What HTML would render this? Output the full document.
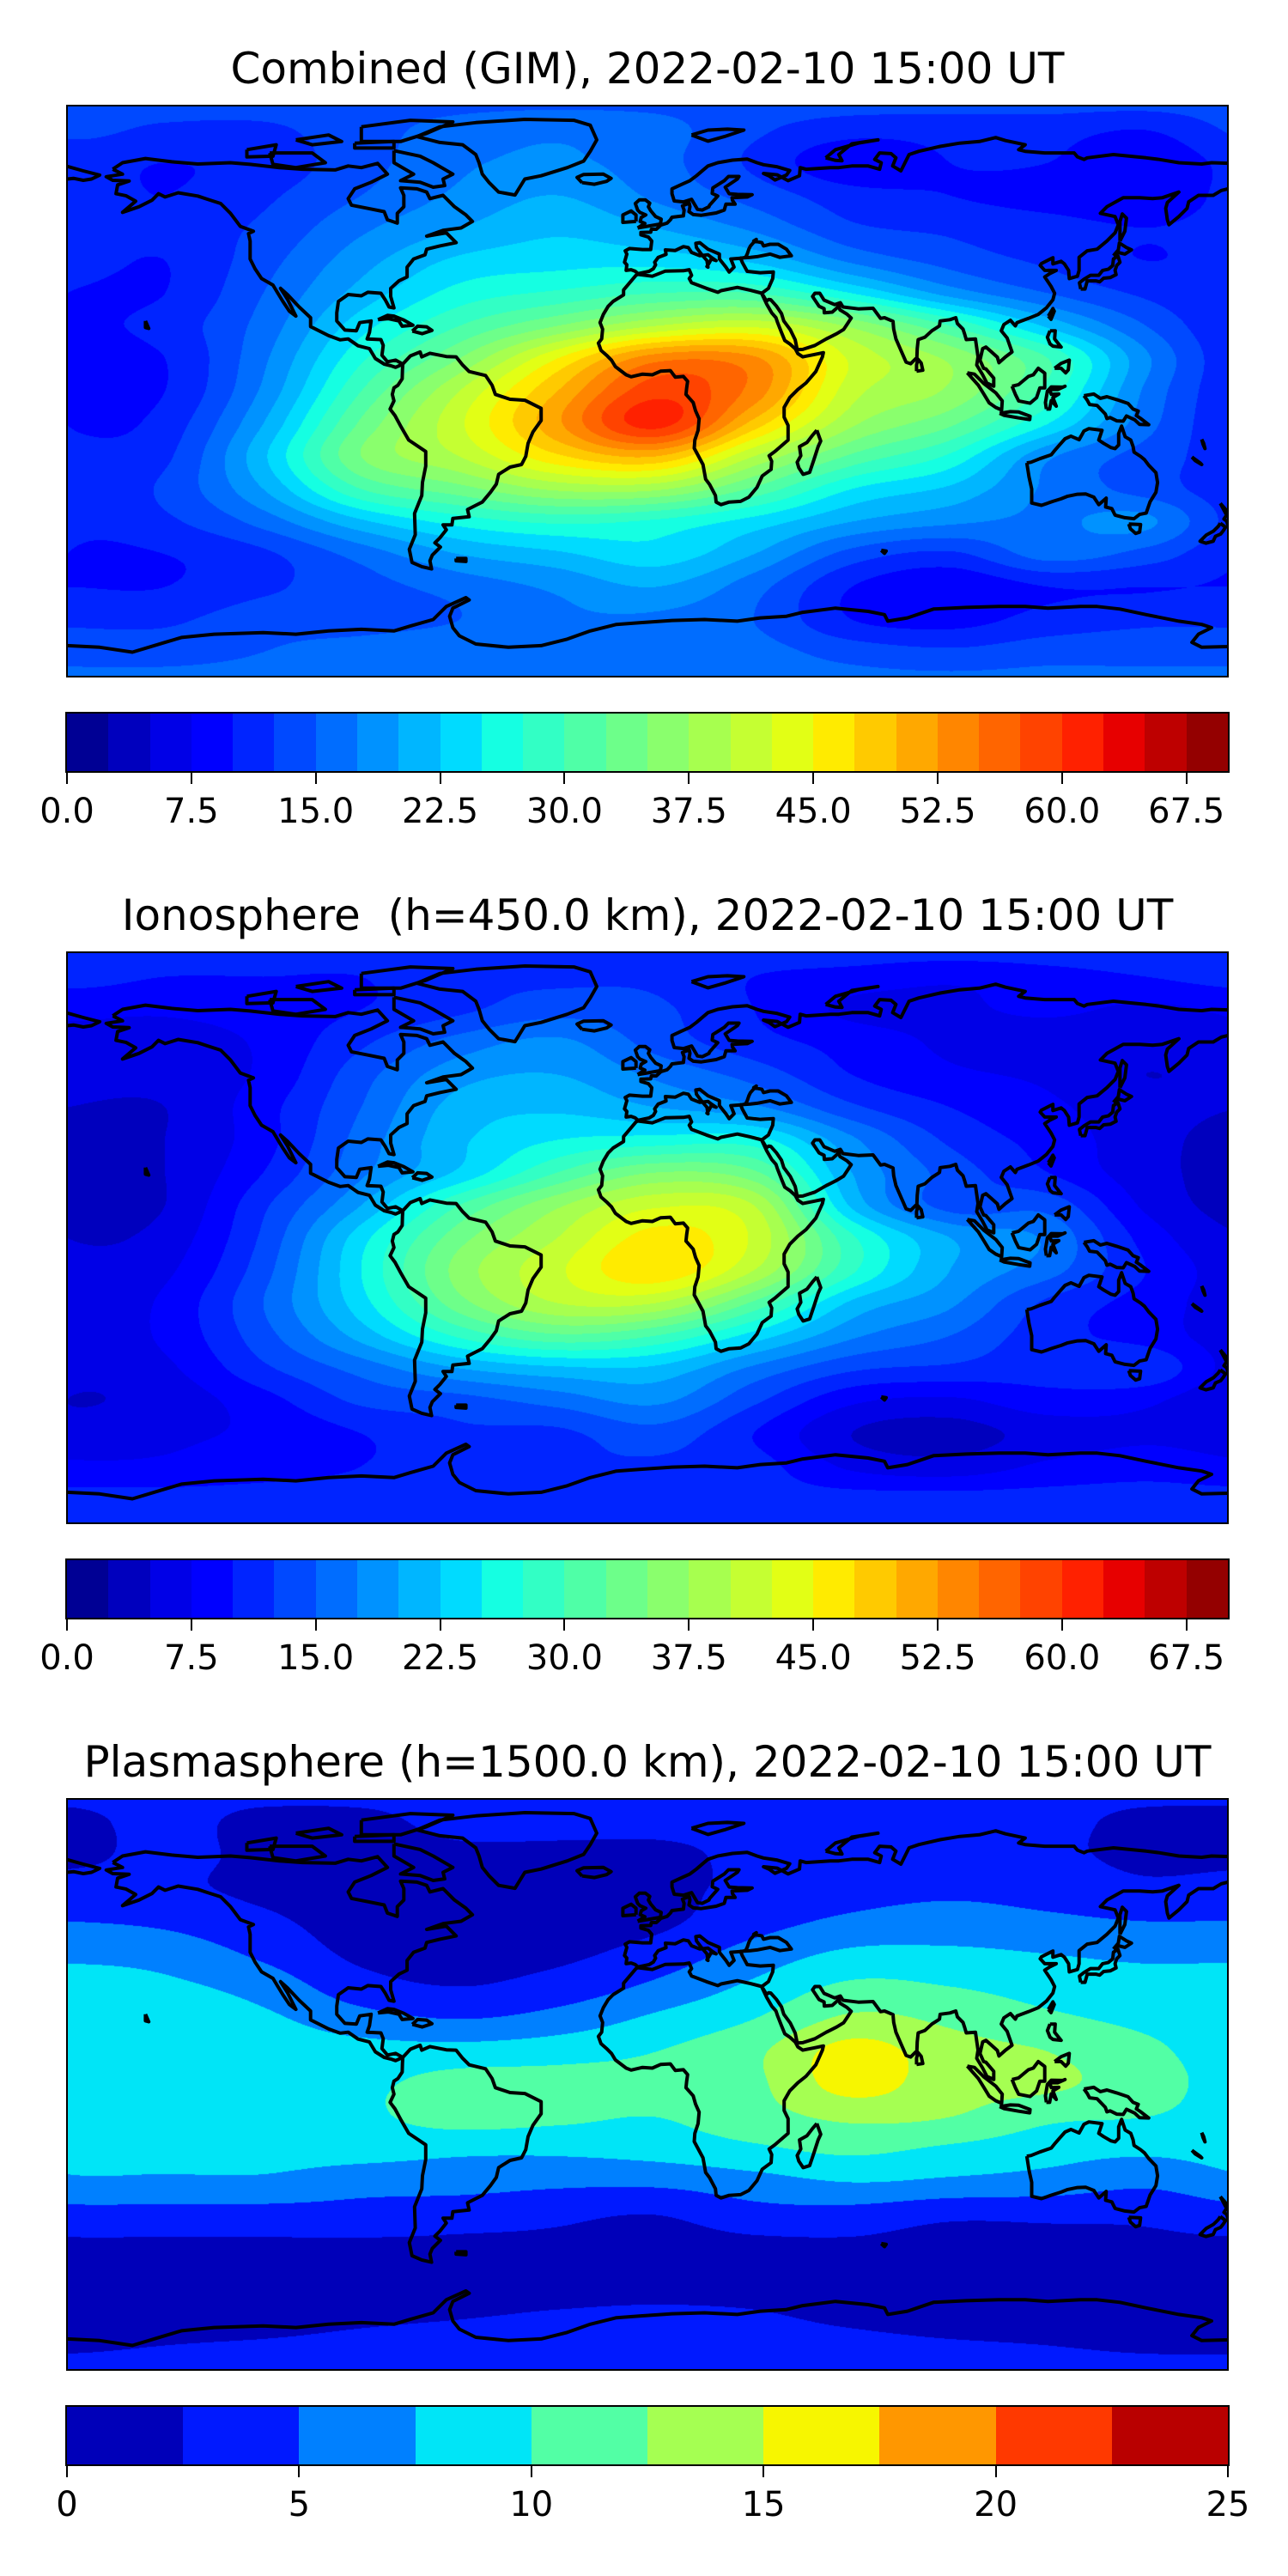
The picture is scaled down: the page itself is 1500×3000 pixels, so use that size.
<!DOCTYPE html>
<html><head><meta charset="utf-8">
<style>
html,body{margin:0;padding:0;background:#fff;}
body{width:1500px;height:3000px;position:relative;overflow:hidden;font-family:"DejaVu Sans","Liberation Sans",sans-serif;}
.title{position:absolute;left:0;width:1508px;text-align:center;font-size:50px;line-height:50px;white-space:pre;color:#000;}
.map{position:absolute;left:78px;width:1352px;height:665px;}
.map canvas{position:absolute;left:0;top:0;}
.map svg{position:absolute;left:0;top:0;overflow:hidden;}
.frame{position:absolute;left:-1px;top:-1px;width:1350px;height:663px;border:2px solid #000;}
.cbar{position:absolute;left:78px;width:1352px;height:67px;}
.cbar .cells{position:absolute;left:0;top:0;width:1352px;height:67px;display:flex;}
.cbar .cells div{flex:1;height:100%;}
.cbar .cframe{position:absolute;left:-2px;top:-2px;width:1352px;height:67px;border:2px solid #000;}
.tick{position:absolute;width:2px;height:15px;background:#000;}
.tlab{position:absolute;width:200px;margin-left:-100px;text-align:center;font-size:40px;line-height:40px;color:#000;}
</style></head>
<body>

<div class="title" style="top:55px">Combined (GIM), 2022-02-10 15:00 UT</div>
<div class="map" id="map1" style="top:123px">
 <canvas id="cv1" width="1352" height="665"></canvas>
 <svg id="sv1" width="1352" height="665" viewBox="0 0 1352 665"></svg>
 <div class="frame"></div>
</div>
<div class="cbar" id="cb1" style="top:831px"><div class="cells"></div><div class="cframe"></div></div>

<div class="title" style="top:1041px">Ionosphere  (h=450.0 km), 2022-02-10 15:00 UT</div>
<div class="map" id="map2" style="top:1109px">
 <canvas id="cv2" width="1352" height="665"></canvas>
 <svg id="sv2" width="1352" height="665" viewBox="0 0 1352 665"></svg>
 <div class="frame"></div>
</div>
<div class="cbar" id="cb2" style="top:1817px"><div class="cells"></div><div class="cframe"></div></div>

<div class="title" style="top:2027px">Plasmasphere (h=1500.0 km), 2022-02-10 15:00 UT</div>
<div class="map" id="map3" style="top:2095px">
 <canvas id="cv3" width="1352" height="665"></canvas>
 <svg id="sv3" width="1352" height="665" viewBox="0 0 1352 665"></svg>
 <div class="frame"></div>
</div>
<div class="cbar" id="cb3" style="top:2803px"><div class="cells"></div><div class="cframe"></div></div>

<script>
const gridLons = [-180,-150,-120,-90,-60,-30,0,30,60,90,120,150,180];
const gridLats = [90,80,70,60,50,40,30,20,10,0,-10,-20,-30,-40,-50,-60,-70,-80,-90];

const combinedTec = [
 [14,14,14,14,14,14,14,14,14,14,14,14,14],
 [13,12,12,14,16,17,16,13,11,11,11,10,13],
 [11,10,11,14,17,18,16,12,8,10,10,8,11],
 [11,10,12,15,18,20,17,14,11,10,9,8,11],
 [11,11,13,17,20,22,20,17,13,12,11,10,11],
 [11,10,14,19,23,24,24,22,17,14,12,10,11],
 [10,10,15,21,26,28,30,30,25,19,15,12,10],
 [10,11,16,24,30,35,40,42,37,30,22,15,10],
 [10,10,17,27,35,45,54,53,42,37,30,18,10],
 [10,10,18,30,40,50,59,54,41,37,29,17,10],
 [10,11,20,33,42,52,61,49,38,33,25,16,10],
 [11,12,22,35,40,47,50,40,32,27,18,14,11],
 [11,13,20,30,34,38,38,32,25,22,17,14,11],
 [11,12,16,22,26,28,27,24,20,18,17,18,11],
 [10,10,12,16,20,22,24,20,14,12,16,14,10],
 [10,10,12,14,16,18,20,16,10,8,10,10,10],
 [12,12,14,14,15,17,17,15,10,9,11,12,12],
 [14,14,15,16,17,17,17,16,14,13,14,14,14],
 [16,16,16,16,16,16,16,16,16,16,16,16,16]
];
const ionoTec = [
 [12,12,12,12,12,12,12,12,12,12,12,12,12],
 [11,10,10,10,12,12,12,10,9,8,9,10,11],
 [8,8,9,10,12,14,13,10,7,7,8,7,8],
 [7,6,8,12,16,18,14,11,9,7,6,6,7],
 [6,6,8,14,19,20,17,14,10,8,7,5,6],
 [5,5,9,15,21,22,20,18,13,10,8,6,5],
 [4,5,9,16,22,25,26,26,18,12,9,6,4],
 [4,5,10,17,23,30,35,33,20,14,10,6,4],
 [4,5,12,20,30,37,42,40,22,14,14,7,4],
 [5,6,13,24,34,40,46,42,28,20,17,9,5],
 [6,7,14,25,36,42,47,40,28,20,16,10,6],
 [6,8,15,24,34,40,40,32,22,18,12,9,6],
 [6,8,14,21,28,32,30,24,18,15,11,9,6],
 [6,7,12,16,20,22,22,17,13,12,11,12,6],
 [5,6,9,13,14,16,18,13,8,7,9,8,5],
 [6,7,8,10,12,12,14,10,5,4,6,7,6],
 [8,8,9,10,11,12,12,11,7,6,8,9,8],
 [11,11,11,11,11,11,11,11,11,11,11,11,11],
 [12,12,12,12,12,12,12,12,12,12,12,12,12]
];
const plasmaTec = [
 [3,3,3,3,3,3,3,3,3,3,3,3,3],
 [2,3,2,2,3,3,3,3,3,3,3,2,2],
 [2,3,2,1.5,2,2,2,3,3.5,3.5,3,2,2],
 [3.5,3,2,1.5,1.5,1.5,2,3,4,4.5,4,3,3.5],
 [5,4.5,3,1.5,1.5,1.5,2,4,5.5,6,5.5,5,5],
 [7,6.5,4.5,2,1.8,2,3.5,6,8,8,7.5,7,7],
 [8.5,8,6.5,3.5,2.5,3.5,5.5,8,10.5,10,9,8.5,8.5],
 [9,9,8,6,5,6,8,10,13,12,10.5,9.5,9],
 [9,9.5,9,8.5,8.5,9,10,12,16,13.5,12.5,10.5,9],
 [9,9.5,9.5,9.5,11,11,11,12,16,13.5,13,11,9],
 [9,9.5,9,9.5,11,10.5,10,11.5,13,12.5,10.5,10,9],
 [8.5,8.5,8.5,8.5,8,8,8.5,9.5,10.5,9.5,8.5,8,8.5],
 [7,7,7,6,6,5.5,5.5,6.5,7.5,7,6.5,5.5,7],
 [4,4,4,4,3.5,3,2.5,4,4,3,3,3,4],
 [2,2,2,2,2,2,1.5,1.8,2,1.5,1.8,2,2],
 [1.5,1.5,1.5,1.5,1.5,1.5,1.5,1.5,1.5,1.5,1.5,1.5,1.5],
 [1.5,1.5,1.5,2,2.3,2.6,2.8,2.6,2,1.5,1.5,1.5,1.5],
 [2.3,2.5,2.7,3,3.2,3.3,3.3,3.2,3,2.7,2.5,2.3,2.3],
 [3,3,3,3,3,3,3,3,3,3,3,3,3]
];
const tecTicks = [0,7.5,15,22.5,30,37.5,45,52.5,60,67.5];
const tecTickLabels = ["0.0","7.5","15.0","22.5","30.0","37.5","45.0","52.5","60.0","67.5"];
const plasmaTicks = [0,5,10,15,20,25];
const plasmaTickLabels = ["0","5","10","15","20","25"];

const coasts = [
 [[-166,68],[-163,70],[-156,71.3],[-148,70.3],[-140,69.6],[-130,70],[-124,69.5],[-115,68.5],[-108,68],[-98,67.8],[-94,69],[-90,68.5],[-85,69.8],[-82,66.5],[-87,64],[-92,62],[-94,59],[-93,57],[-88,56],[-83,55],[-82,52.5],[-79,51.5],[-79,54.5],[-77,56.5],[-77,60],[-78,62.3],[-73,62],[-70,61],[-69,59],[-65,60],[-61.5,56.5],[-58,54],[-56,52],[-59.5,50],[-65,49.3],[-70,47.5],[-64,48.5],[-61,45.5],[-66,44.5],[-70,43.5],[-70.5,41.8],[-74,40.5],[-76,38],[-76,35],[-78.5,33.8],[-81,31.5],[-81,29],[-80,25.5],[-81.5,25.8],[-82.7,28],[-84,30],[-88,30.3],[-90,29.2],[-94,29.6],[-97,27.5],[-97.5,24],[-97.5,21.5],[-95,18.7],[-91.5,18.5],[-90.5,21],[-87,21.5],[-87.5,18],[-88.2,16],[-84,15.8],[-83.3,14],[-83.7,11],[-82,9],[-79.5,9.5],[-77.3,8.3],[-79.5,7.3],[-81,7.8],[-83,8.3],[-85.7,10],[-87.5,13],[-91,13.9],[-94,16],[-96.5,15.7],[-100,17],[-105.5,19.8],[-105.5,22.5],[-109,25.8],[-112.5,29.5],[-114.7,31.5],[-112.5,28],[-110,23],[-112,24.5],[-114,27.5],[-115.5,30],[-117,32.5],[-120.5,34.5],[-122.5,37.5],[-124,40.5],[-124,46],[-124.5,48.3],[-123,49],[-127,50.5],[-130,54.5],[-133,57.5],[-137,58.8],[-140,59.8],[-146,60.8],[-150,59.5],[-152,60.5],[-154,58.5],[-158,56.5],[-163,54.8],[-159,58.2],[-162,59.9],[-165,60.5],[-164.5,63.2],[-161,64.4],[-166,64.6],[-168,65.7],[-163,66.5],[-166,68]],
 [[-77.3,8.3],[-75,10.8],[-72,12],[-71.5,10.5],[-69,11.6],[-64,10.6],[-61,10.5],[-59,8],[-57,6],[-52,4.8],[-50,1.8],[-49,-1],[-44.5,-2.5],[-40,-2.8],[-35,-5.3],[-35,-9],[-37.5,-12.5],[-39,-16],[-39.7,-20],[-41,-22.5],[-44.5,-23.3],[-48,-25.5],[-48.7,-28.5],[-50.5,-31],[-53,-34],[-55,-35],[-57.5,-36.3],[-57,-38.5],[-62,-39],[-62.3,-41],[-65,-41],[-64,-42.5],[-66,-45],[-67.5,-46.5],[-65.8,-47.8],[-68.3,-50.3],[-69,-52],[-68.5,-54.5],[-71.5,-53.8],[-74.5,-52.5],[-75.3,-48.5],[-73.5,-44],[-73.7,-37.5],[-71.5,-32],[-71.3,-28],[-70.3,-23],[-70.3,-18.5],[-75.5,-15],[-77.8,-11],[-79.7,-7.5],[-81.2,-5.5],[-80,-3],[-80.5,-1],[-80,1],[-78.8,1.8],[-77.5,3.8],[-77.4,6.5],[-77.3,8.3]],
 [[-73,78],[-66,81],[-55,82.3],[-40,83.3],[-25,83],[-20,81.5],[-18,77],[-20,73.5],[-22,70.5],[-27,68.5],[-35,66],[-40,65],[-43,60.1],[-48,61],[-51,64],[-53,66.5],[-54,70],[-55,72.5],[-59,75.5],[-66,76.2],[-73,78]],
 [[-80,73.7],[-72,72],[-68,70],[-62,66.5],[-65,65],[-64.5,63],[-68,62.5],[-72,64],[-78,64.5],[-74,66.5],[-80,70],[-80,73.7]],
 [[-118,73],[-105,73],[-101,70],[-110,68.5],[-117,69.5],[-118,73]],
 [[-90,81],[-75,83],[-62,82.5],[-70,79],[-78,76.5],[-90,76.5],[-90,81]],
 [[-92,76],[-80,76.5],[-80,74.5],[-92,74.5],[-92,76]],
 [[-125,74],[-116,75.5],[-117,72],[-125,71.8],[-125,74]],
 [[-110,77],[-100,78.5],[-96,76.5],[-105,75.5],[-110,77]],
 [[32.5,30],[34.5,31.5],[35.8,34.5],[36,36.5],[32,36.3],[28,36.7],[26.5,39.5],[26,40.8],[29,41],[31,41.2],[35,42],[38,41],[41.5,41.5],[40,43.5],[37.5,45],[35,45],[33,44.5],[32.5,45.5],[30,46],[30.8,46.5],[29,44.5],[28.5,43.5],[28,42],[27.5,41],[26,40.7],[23,40.5],[24,38],[22.5,36.5],[21.5,38],[19.5,40.5],[19.5,42],[16,43.5],[13.5,45.5],[12.3,45.3],[12.5,44],[14,42],[15.7,40],[16,38],[15.7,38.2],[16.5,39.5],[17,40.5],[18.5,40],[17,41],[16,41.8],[13.5,41.5],[11,42.5],[10,44],[8.5,44.3],[6,43.1],[3,43.3],[3.2,41.9],[0.8,41],[-0.3,39.5],[0,38.7],[-0.7,37.5],[-2,36.7],[-5.4,36],[-6.3,36.8],[-7.5,37.2],[-9,37],[-8.8,38.7],[-9.5,39.5],[-8.8,42],[-9.3,43],[-8,43.7],[-4,43.4],[-1.5,43.4],[-1.2,46],[-2.2,47.2],[-4.5,47.9],[-4.5,48.6],[-1.5,48.7],[-1.3,49.6],[0.2,49.6],[1.6,50.9],[3.5,51.5],[4.5,52.5],[5,53.3],[8.5,53.7],[8.7,55.5],[8.2,56.8],[10.3,57.6],[10.5,56.5],[10.2,55],[11.5,54.1],[14,53.9],[18.5,54.6],[21,55.5],[21.5,57.3],[24.3,57.3],[23.5,58.5],[23.4,59.3],[28,59.5],[29.5,60.2],[25,60.3],[22.5,60.5],[21.3,62.5],[25,65],[25.5,65.8],[22.3,65.8],[21,64.5],[17.5,62.3],[17.3,60.6],[19,59.8],[16.5,57],[16.3,56.5],[14.3,55.5],[12.8,55.7],[11,58.8],[8.5,58],[5.7,58.3],[5,60.5],[5,62],[8.3,63.5],[10.5,64.5],[12.5,66],[14.5,67.7],[16,69],[19,70],[23.5,70.8],[28,71.1],[31,70],[33,69.4],[37,68.8],[41,67.6],[40,66.2],[36.5,64.7],[34.8,65.9],[33,66.7],[37.2,66.3],[40.5,64.5],[44,66],[44.2,68.5],[46,68],[53.5,68.5],[56,68.5],[60,69],[65,69],[68.5,68],[69,70],[67,71],[68.5,73],[72,72.8],[73.5,71.5],[72.5,69],[75,67.5],[77.5,72.5],[80.5,73.5],[87,75],[93,76],[99,76.5],[104,77.7],[107,76.8],[113,75.5],[111,74],[113,73.5],[119,73],[128,73],[129,71.8],[131,71],[132,71.5],[140,72.5],[150,71.5],[154,71],[160,70],[167,69.6],[170,70],[176,69.8],[180,68.9],[180,65],[178.5,64.3],[177,62.5],[173,61.5],[170.5,60],[166,60],[163,58],[162.5,56],[160,53.5],[157,51],[156.5,52.5],[156,56],[156.5,57.8],[160,61],[155,59.3],[152,59],[148,59.3],[143,59.3],[138,56.5],[136,54.5],[140.5,53.5],[141.5,51],[140.5,48.5],[138,46],[135,43.5],[132,43],[129.5,41],[129.5,39.5],[129.5,37],[129,35.2],[126.5,34.5],[126.3,37],[125,39],[124,39.8],[121.5,39],[121.5,40.9],[118,39.1],[117.6,38.5],[119,37],[122.5,37],[120.5,36],[119,35],[121,32],[122,30],[121.5,28],[119.5,25.5],[117,23.5],[114,22.3],[110.5,21],[110,20],[108.5,21.7],[106.5,20.4],[105.7,18.5],[107.5,16.3],[109,12],[107,10.5],[105,8.7],[104.5,10.4],[102.5,12.2],[101,13.5],[100,13],[99.2,9.5],[100.3,7],[101,6.8],[103.4,4],[103.4,1.5],[101.3,2.5],[100,5],[98.2,8],[98.6,10.5],[97.8,16],[95,15.8],[94.5,17.5],[94,19],[92.3,20.7],[91.8,22.5],[90,21.9],[87,21.5],[86.8,20],[84.5,18.5],[82.3,16.5],[80.3,15.8],[80,13],[79.9,10.3],[78,8.4],[76.6,8.9],[75,12.5],[73.5,16],[72.8,19],[72.6,21.4],[70,22.5],[68.8,22.3],[67,24.7],[66.5,25.4],[62,25.2],[57.3,25.8],[56.5,27.1],[54.8,26.5],[51.5,27.9],[50.2,30],[48.7,30],[48,29],[50,26],[51.5,25.3],[51.6,24],[54,24.2],[56,26],[56.4,24.9],[58.5,23.6],[59.8,22.4],[58.5,20.4],[57.5,18.9],[55.4,17.6],[52.2,16],[48.7,14],[45,12.8],[43.3,12.7],[42.7,15.7],[41.2,18.8],[39.2,21.5],[38.5,23.8],[37,26],[35.2,28],[34.6,28.1],[33.9,27.6],[32.5,30]],
 [[-180,68.9],[-175,67.5],[-170,66.2],[-172.5,65],[-175,64.6],[-178,65.2],[-180,65]],
 [[32.5,30],[29,30.9],[25,31.8],[20,30.8],[19,30.3],[15.5,31.5],[11,33.2],[10.3,34.5],[11,35.5],[10.3,37.2],[8.5,36.9],[3,36.8],[-1,35.2],[-5.5,35.8],[-6,35.5],[-9.8,31],[-9.8,29.5],[-13,27.5],[-14.5,26],[-16,23.5],[-17,21],[-16.2,19],[-16.5,16],[-17.5,14.7],[-16.7,12.5],[-15,11],[-13.5,9.5],[-12.3,7.5],[-9,5],[-7.5,4.4],[-4,5.2],[-1,5],[1.5,6.1],[4.5,6.3],[6,4.3],[8.5,4.5],[9.8,3],[9.5,1],[9.3,-1],[11.5,-3.5],[12.2,-6],[13.3,-8.5],[13,-12],[12,-15],[11.8,-17.5],[14.5,-22.5],[15.3,-27],[16.5,-28.6],[18.3,-32],[18.5,-34],[20,-34.8],[22.5,-34],[26,-33.8],[28.5,-32.5],[31,-29.5],[32.6,-26],[35.3,-24],[35.5,-21.5],[34.7,-19.8],[36.5,-18.5],[40.5,-15],[40.5,-10.5],[39.3,-8],[39.3,-5],[41,-2],[43.5,0.5],[46,2.5],[49,6],[51,10.5],[51.3,11.8],[48.5,11.2],[45,10.5],[43.5,11.5],[42.7,13],[41,14.5],[39.5,15.5],[38.5,18],[37.3,21],[36.8,22.5],[35.5,24],[34,26.6],[32.5,29.8]],
 [[49.3,-12],[50.5,-15.3],[49.7,-17],[48.4,-21],[47.1,-24.9],[45.1,-25.5],[43.8,-23.5],[43.3,-21.8],[44.4,-19.8],[44,-17],[46.3,-15.7],[48,-13.5],[49.3,-12]],
 [[-5.5,50],[1.5,51.2],[1.7,52.7],[0,53.5],[-1.5,55.3],[-2.2,56.5],[-1.8,57.6],[-3.1,58.6],[-5,58.6],[-6.2,57.5],[-5.5,55.5],[-4.8,54.8],[-3,54],[-4.4,53.2],[-4.7,52],[-3.3,51.4],[-5.5,50]],
 [[-6,52],[-6,54],[-7.5,55.2],[-10,54],[-10,51.7],[-6,52]],
 [[-22.5,63.9],[-24,65.5],[-22,66.4],[-16,66.5],[-13.6,65.2],[-15,64.3],[-18.7,63.4],[-22.5,63.9]],
 [[130,31.3],[131.3,31.3],[132,33.8],[134.6,33.8],[135.8,33.5],[137,34.6],[139,34.8],[140.8,35.7],[140.5,37],[141,38.5],[142,39.5],[141.4,41.4],[140,40.5],[139.8,38.5],[138.5,37.4],[136.7,37],[135.5,35.5],[133,35.5],[131,34.3],[129.6,33.2],[130,31.3]],
 [[140,41.5],[141.5,42.5],[143.5,42],[145.5,43.3],[144,44],[141.8,45.4],[141.5,43.3],[140,41.5]],
 [[142,46],[143.5,49],[144,53],[142.7,54.3],[142,52],[142,46]],
 [[79.8,6.1],[81.7,6.4],[81.2,8.6],[80.2,9.8],[79.8,8],[79.8,6.1]],
 [[120.1,23],[120.9,22],[121.9,24.5],[121.5,25.3],[120.1,23]],
 [[120.6,18.5],[122.2,18.5],[122,16],[124,13.5],[121.5,13.8],[120.6,14.5],[119.8,16.5],[120.6,18.5]],
 [[122,7],[124,8.5],[126.5,9.5],[126.2,6.5],[125.4,5.6],[124,7],[122,7]],
 [[109,1.5],[110,-1],[111,-3],[114.5,-3.7],[116.5,-2],[117.5,1],[119,1],[119,5.5],[117,7],[115.5,5],[114,4.5],[111,2],[109,1.5]],
 [[95.3,5.6],[97.5,5.2],[100.4,2.3],[104,-0.5],[106,-3],[105.8,-5.8],[104,-5],[102,-3.6],[100.3,-0.8],[98.7,1.8],[95.3,5.6]],
 [[105.2,-6.8],[108.5,-6.3],[111,-6.4],[114.5,-7.7],[114.4,-8.7],[111,-8.2],[106.5,-7.4],[105.2,-6.8]],
 [[119.5,-5.5],[119.2,-3.5],[119.8,0],[121,1.3],[124.5,1.2],[125.2,1.5],[123,0.5],[120.5,0.5],[121,-1],[123.3,-0.9],[121.5,-2],[122.5,-4.6],[121,-2.9],[120.5,-5.5],[119.5,-5.5]],
 [[131,-1.4],[134,-0.9],[136,-2.2],[138,-1.7],[141,-2.6],[144.5,-3.8],[146,-5.5],[147.6,-6.1],[147,-7.5],[148.2,-8.3],[150.8,-10.3],[148,-10.2],[146.5,-8.8],[144,-7.6],[143,-9.2],[141,-9.1],[139,-8.1],[138,-8.4],[137.5,-7],[135,-4.4],[132.7,-4.1],[132,-2.8],[131,-1.4]],
 [[113.5,-22],[114.2,-26.3],[115,-30],[115,-34.3],[118,-35],[121.5,-33.8],[124,-33],[126,-32.2],[129,-31.6],[131.5,-31.5],[134,-32.5],[135.5,-34.8],[137.8,-32.8],[137.6,-35.5],[139.5,-36],[140.5,-38],[143.5,-38.8],[146.3,-39.1],[148,-37.8],[150,-37.4],[151.2,-33.9],[153,-31],[153.5,-28],[153,-25],[150.8,-22.7],[149.5,-21],[148.3,-20],[146.3,-18.7],[146,-17],[145.3,-15],[143.6,-14],[142.5,-10.7],[141.6,-13],[141.6,-16.5],[140.5,-17.6],[139.2,-17.3],[137,-16],[135.5,-15],[136.5,-12],[132.5,-11.5],[131,-12.2],[129.5,-14.9],[127,-13.8],[125.2,-14.6],[123.5,-16.5],[122.2,-18],[121,-19.5],[117.5,-20.7],[114.8,-21.8],[113.5,-22]],
 [[144.7,-40.7],[148.3,-40.9],[148,-43.2],[146.8,-43.6],[145.2,-42.2],[144.7,-40.7]],
 [[172.7,-34.4],[174.5,-36.5],[175.9,-37.3],[178.5,-37.7],[177,-39.3],[176.5,-40.5],[175.2,-41.6],[174.6,-39.8],[173.8,-39.2],[174.6,-38],[172.7,-34.4]],
 [[172.7,-40.5],[174.3,-41.7],[173.5,-42.9],[172.8,-43.8],[171.2,-44.5],[170.5,-46],[168.3,-46.6],[166.5,-46],[168.4,-44.1],[170.6,-42.9],[172,-41.5],[172.7,-40.5]],
 [[167,-14.8],[167.6,-16],[168,-17.6],[167.4,-16.3],[167,-14.8]],
 [[164,-20.2],[166.5,-22],[167,-22.5],[165,-21.3],[164,-20.2]],
 [[-84.9,21.9],[-82,23.2],[-80,23],[-77,21.8],[-74.2,20.2],[-77.5,19.9],[-78.5,21.5],[-81.8,22.2],[-84.9,21.9]],
 [[-74.4,18.4],[-72.8,19.9],[-70,19.7],[-68.4,18.6],[-71.4,17.6],[-74.4,18.4]],
 [[52,71.5],[55,70.7],[57,70.6],[56,72.5],[60,75.8],[68,77],[62,76],[55,74],[52,71.5]],
 [[11,78.5],[16,80],[22,80.3],[27,80],[21,78],[16,76.6],[11,78.5]],
 [[-61,-51.3],[-58,-51.3],[-58,-52.2],[-61,-52],[-61,-51.3]],
 [[-156,21.5],[-155,19.2],[-156,19.5],[-156,21.5]],
 [[69,-48.8],[70.5,-49],[70,-49.7],[69,-48.8]],
 [[-180,-78],[-170,-78.5],[-160,-80],[-150,-77],[-145,-75.5],[-135,-74.5],[-120,-74],[-110,-74.5],[-100,-73.5],[-90,-73],[-80,-73.5],[-75,-72],[-68,-70],[-64,-66],[-58,-63.3],[-57,-64],[-62,-66.5],[-63,-69],[-62,-72.5],[-60,-75],[-55,-77.5],[-45,-78.5],[-35,-78],[-27,-76],[-20,-73.5],[-12,-71.5],[-5,-71],[5,-70.3],[15,-70],[25,-70.5],[32,-69.5],[40,-69],[45,-67.8],[55,-66.5],[65,-67.5],[70,-68.5],[71,-70.5],[77,-69.5],[85,-66.8],[95,-66.3],[105,-66],[113,-66],[120,-66.5],[130,-66],[135,-66],[142,-66.8],[150,-68.5],[160,-70.5],[167,-71.5],[170,-72.5],[166,-74.5],[164,-77],[167,-78.5],[175,-78.3],[180,-78]]
];

const LON0 = -180, LON1 = 175, LAT0 = 87.5, LAT1 = -87.5, MW = 1352, MH = 665;
function xOfLon(lon){ return (lon - LON0) / (LON1 - LON0) * MW; }
function yOfLat(lat){ return (LAT0 - lat) / (LAT0 - LAT1) * MH; }

function jetChan(x, pts){
  for (let i = 0; i < pts.length - 1; i++) {
    const a = pts[i], b = pts[i+1];
    if (x >= a[0] && x <= b[0]) return a[1] + (b[1]-a[1]) * (x-a[0]) / (b[0]-a[0]);
  }
  return pts[pts.length-1][1];
}
function jet(x){
  const r = jetChan(x, [[0,0],[0.35,0],[0.66,1],[0.89,1],[1,0.5]]);
  const g = jetChan(x, [[0,0],[0.125,0],[0.375,1],[0.64,1],[0.91,0],[1,0]]);
  const b = jetChan(x, [[0,0.5],[0.11,1],[0.34,1],[0.65,0],[1,0]]);
  return [Math.round(r*255), Math.round(g*255), Math.round(b*255)];
}
function cr(p0,p1,p2,p3,f){
  return 0.5*(2*p1 + (-p0+p2)*f + (2*p0-5*p1+4*p2-p3)*f*f + (-p0+3*p1-3*p2+p3)*f*f*f);
}

function renderField(canvasId, grid, vmax, nLev){
  const cv = document.getElementById(canvasId);
  const ctx = cv.getContext('2d');
  const W = cv.width, H = cv.height;
  const img = ctx.createImageData(W, H);
  const nCol = gridLons.length - 1;
  const lonStep = gridLons[1] - gridLons[0];
  const latStep = gridLats[0] - gridLats[1];
  const cols = [];
  for (let k = 0; k < nLev; k++) cols.push(jet((k + 0.5) / nLev));
  const rowInterp = grid.map(row => {
    const arr = new Float32Array(W);
    for (let px = 0; px < W; px++) {
      const lon = LON0 + (px + 0.5) / W * (LON1 - LON0);
      const t = (lon - gridLons[0]) / lonStep;
      const i0 = Math.floor(t), f = t - i0;
      const m = i => row[((i % nCol) + nCol) % nCol];
      arr[px] = cr(m(i0-1), m(i0), m(i0+1), m(i0+2), f);
    }
    return arr;
  });
  const nRow = grid.length;
  const step = vmax / nLev;
  for (let py = 0; py < H; py++) {
    const lat = LAT0 - (py + 0.5) / H * (LAT0 - LAT1);
    const s = (gridLats[0] - lat) / latStep;
    const j0 = Math.floor(s), f = s - j0;
    const R = j => rowInterp[Math.max(0, Math.min(nRow - 1, j))];
    const a = R(j0-1), b = R(j0), c = R(j0+1), d = R(j0+2);
    for (let px = 0; px < W; px++) {
      const v = cr(a[px], b[px], c[px], d[px], f);
      let k = Math.floor(v / step);
      if (k < 0) k = 0; if (k >= nLev) k = nLev - 1;
      const col = cols[k];
      const o = (py * W + px) * 4;
      img.data[o] = col[0]; img.data[o+1] = col[1]; img.data[o+2] = col[2]; img.data[o+3] = 255;
    }
  }
  ctx.putImageData(img, 0, 0);
}

function drawCoasts(svgId){
  const svg = document.getElementById(svgId);
  const NS = 'http://www.w3.org/2000/svg';
  coasts.forEach(poly => {
    const d = poly.map((p, i) => (i ? 'L' : 'M') + xOfLon(p[0]).toFixed(1) + ' ' + yOfLat(p[1]).toFixed(1)).join(' ');
    const path = document.createElementNS(NS, 'path');
    path.setAttribute('d', d);
    path.setAttribute('fill', 'none');
    path.setAttribute('stroke', '#000');
    path.setAttribute('stroke-width', '4');
    path.setAttribute('stroke-linejoin', 'round');
    
    
    svg.appendChild(path);
  });
}

function buildColorbar(cbId, vmax, nLev, ticks, labels){
  const cb = document.getElementById(cbId);
  const cells = cb.querySelector('.cells');
  for (let k = 0; k < nLev; k++) {
    const c = jet((k + 0.5) / nLev);
    const el = document.createElement('div');
    el.style.background = 'rgb(' + c.join(',') + ')';
    
    
    cells.appendChild(el);
  }
  ticks.forEach((t, i) => {
    const x = t / vmax * MW;
    const tk = document.createElement('div');
    tk.className = 'tick';
    tk.style.left = (x - 1) + 'px';
    tk.style.top = '67px';
    
    
    cb.appendChild(tk);
    const lb = document.createElement('div');
    lb.className = 'tlab';
    lb.style.left = x + 'px';
    lb.style.top = '94px';
    lb.textContent = labels[i];
    
    
    cb.appendChild(lb);
  });
}

renderField('cv1', combinedTec, 70, 28);
renderField('cv2', ionoTec, 70, 28);
renderField('cv3', plasmaTec, 25, 10);
drawCoasts('sv1'); drawCoasts('sv2'); drawCoasts('sv3');
buildColorbar('cb1', 70, 28, tecTicks, tecTickLabels);
buildColorbar('cb2', 70, 28, tecTicks, tecTickLabels);
buildColorbar('cb3', 25, 10, plasmaTicks, plasmaTickLabels);
</script>
</body></html>
